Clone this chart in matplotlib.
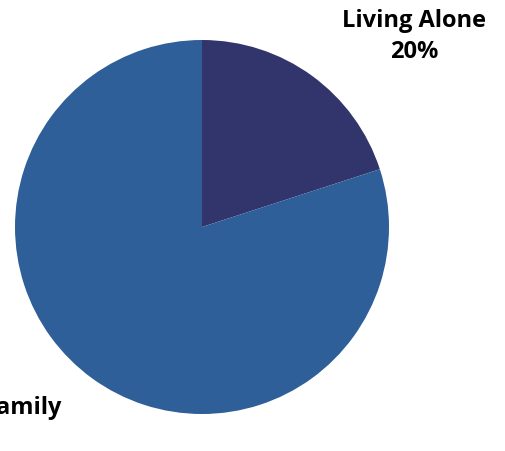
import matplotlib
matplotlib.use('Agg')
import matplotlib.pyplot as plt

# Data
labels = ['Living Alone', 'Living with Family']
shares = [20, 80]
colors = ['#31356b', '#2e5f98']

plt.rcParams['font.family'] = ['Open Sans', 'DejaVu Sans']

fig = plt.figure(figsize=(5.06, 4.52), dpi=100)
# axes placed so the pie fills it: centre (202, 228) px, radius 187 px
ax = fig.add_axes([15 / 506, 37 / 452, 374 / 506, 374 / 452])
ax.pie(shares, colors=colors, startangle=90, counterclock=False,
       wedgeprops={'linewidth': 0})
ax.set_xlim(-1, 1)
ax.set_ylim(-1, 1)
ax.set_aspect('equal')
ax.axis('off')

texts = ['%s\n%d%%' % (l, s) for l, s in zip(labels, shares)]
ax.text(1.134, 1.022, texts[0], ha='center', va='center', fontsize=17,
        fontweight='bold', linespacing=1.38, clip_on=False)
ax.text(-0.749, -1.045, texts[1], ha='right', va='center', ma='center',
        fontsize=17, fontweight='bold', linespacing=1.38, clip_on=False)

fig.savefig('out.png', dpi=100)
